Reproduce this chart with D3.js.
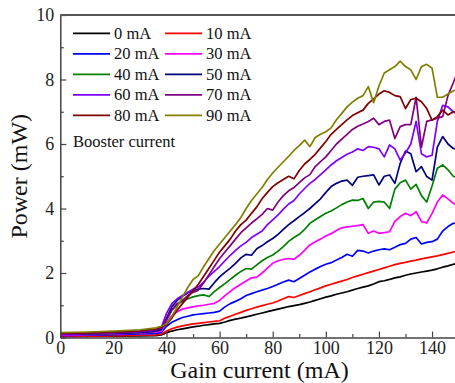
<!DOCTYPE html>
<html><head><meta charset="utf-8">
<script src="https://cdn.jsdelivr.net/npm/d3@7"></script>
</head><body style="margin:0">
<svg id="c" width="455" height="383" font-family="Liberation Serif"></svg>
<script>
// Gain current (mA) sample points
const gainCurrent = [0,10,20,30,36,38,
  40,42,44,46,48,50,52,54,56,58,60,62,64,66,68,
  70,72,74,76,78,80,82,84,86,
  88,90,92,94,96,98,100,
  102,104,106,108,110,112,114,116,118,120,
  122,124,126,128,130,132,134,136,138,140,
  142,144,146,148,150];

// Output power (mW) for each booster current
const p0 = [0.02,0.03,0.04,0.05,0.06,0.08,
  0.15,0.2,0.24,0.27,0.3,0.33,0.35,0.38,0.4,0.42,0.44,0.48,0.53,0.57,0.6,
  0.64,0.68,0.72,0.76,0.8,0.84,0.88,0.92,0.96,
  0.99,1.02,1.06,1.1,1.15,1.2,1.25,
  1.29,1.34,1.38,1.42,1.47,1.52,1.56,1.6,1.66,1.73,
  1.76,1.8,1.85,1.88,1.93,1.97,2.0,2.03,2.06,2.09,
  2.13,2.18,2.22,2.27,2.3];
const p10 = [0.03,0.04,0.05,0.07,0.08,0.1,
  0.2,0.27,0.32,0.36,0.39,0.42,0.44,0.46,0.48,0.5,0.52,0.6,0.66,0.72,0.78,
  0.84,0.89,0.94,0.99,1.03,1.07,1.13,1.2,1.27,
  1.24,1.3,1.36,1.42,1.48,1.54,1.6,
  1.65,1.7,1.75,1.8,1.86,1.91,1.96,2.01,2.06,2.11,
  2.16,2.21,2.26,2.3,2.33,2.37,2.4,2.44,2.47,2.5,
  2.53,2.57,2.61,2.65,2.68];
const p20 = [0.06,0.07,0.09,0.11,0.13,0.15,
  0.35,0.47,0.55,0.62,0.66,0.7,0.72,0.74,0.76,0.78,0.82,0.95,1.05,1.12,1.2,
  1.3,1.36,1.42,1.47,1.52,1.58,1.65,1.72,1.78,
  1.73,1.83,1.93,2.03,2.12,2.2,2.27,
  2.32,2.4,2.48,2.58,2.52,2.7,2.68,2.62,2.68,2.72,
  2.75,2.72,2.8,2.88,2.92,3.05,3.1,2.9,2.95,2.97,
  3.05,3.3,3.44,3.54,3.55];
const p30 = [0.08,0.09,0.11,0.14,0.17,0.2,
  0.45,0.68,0.8,0.88,0.92,0.95,0.98,1.0,1.03,1.06,1.15,1.3,1.43,1.55,1.65,
  1.75,1.85,1.87,2.0,2.15,2.3,2.38,2.42,2.45,
  2.42,2.55,2.7,2.87,2.97,3.05,3.15,
  3.22,3.32,3.4,3.43,3.45,3.47,3.5,3.23,3.3,3.23,
  3.25,3.28,3.6,3.75,3.85,3.78,3.9,3.6,3.55,3.85,
  4.2,4.42,4.3,4.16,4.1];
const p40 = [0.1,0.11,0.13,0.16,0.2,0.25,
  0.55,0.85,1.02,1.12,1.2,1.26,1.3,1.32,1.27,1.42,1.55,1.67,1.8,1.93,2.05,
  2.14,2.12,2.25,2.38,2.48,2.56,2.68,2.82,2.98,
  3.1,3.2,3.35,3.54,3.65,3.75,3.85,
  3.92,4.02,4.12,4.2,4.26,4.25,4.31,4.0,4.2,4.22,
  4.2,4.0,4.6,4.8,4.88,4.6,4.75,4.4,4.2,4.7,
  5.25,5.35,5.2,5.0,4.95];
const p50 = [0.1,0.11,0.13,0.16,0.2,0.25,
  0.6,0.95,1.15,1.28,1.38,1.45,1.5,1.52,1.5,1.7,1.88,2.02,2.15,2.3,2.47,
  2.58,2.55,2.75,2.85,2.97,3.07,3.2,3.35,3.5,
  3.62,3.75,3.87,4.0,4.15,4.3,4.5,
  4.68,4.78,4.85,4.88,4.72,4.97,5.0,5.02,5.04,4.73,
  5.0,5.04,4.78,5.4,5.78,5.7,5.14,5.3,4.99,4.88,
  5.9,6.23,6.0,5.86,5.85];
const p60 = [0.1,0.12,0.14,0.18,0.23,0.3,
  0.75,1.05,1.2,1.3,1.4,1.5,1.57,1.72,1.9,2.05,2.2,2.38,2.55,2.7,2.84,
  2.95,3.1,3.2,3.3,3.5,3.65,3.8,3.98,4.14,
  4.25,4.45,4.62,4.78,4.9,5.05,5.2,
  5.35,5.48,5.58,5.68,5.75,5.85,5.8,5.92,5.9,5.85,
  5.6,5.97,5.85,5.5,5.72,6.0,6.7,5.7,5.6,5.65,
  6.7,7.2,7.15,7.0,6.9];
const p70 = [0.12,0.13,0.15,0.19,0.24,0.3,
  0.55,0.85,1.05,1.15,1.3,1.4,1.47,1.7,1.95,2.2,2.45,2.65,2.85,3.05,3.25,
  3.4,3.55,3.68,3.82,4.0,3.95,4.2,4.4,4.55,
  4.65,4.8,4.95,5.05,5.3,5.45,5.6,
  5.8,6.0,6.15,6.3,6.45,6.55,6.62,6.7,6.8,6.6,
  6.7,6.74,6.17,6.54,6.6,6.6,7.45,5.9,6.7,6.75,
  6.8,6.85,7.5,7.9,8.3];
const p80 = [0.13,0.14,0.17,0.21,0.27,0.33,
  0.4,0.6,0.85,1.05,1.25,1.45,1.65,1.9,2.15,2.4,2.65,2.85,3.05,3.3,3.5,
  3.64,3.85,4.05,4.3,4.5,4.68,4.8,4.9,5.0,
  4.92,5.18,5.38,5.52,5.68,5.88,6.08,
  6.3,6.45,6.6,6.75,6.88,6.97,7.05,7.26,7.4,7.55,
  7.65,7.6,7.5,7.47,7.1,7.38,7.42,7.31,7.1,6.74,
  6.85,7.05,6.9,7.0,7.0];
const p90 = [0.15,0.17,0.2,0.24,0.3,0.35,
  0.42,0.65,0.95,1.25,1.55,1.8,1.92,2.2,2.45,2.7,2.9,3.1,3.3,3.5,3.72,
  4.0,4.25,4.45,4.65,4.9,5.1,5.28,5.45,5.62,
  5.8,5.95,6.12,5.92,6.2,6.3,6.38,
  6.5,6.75,6.95,7.15,7.3,7.42,7.5,7.78,7.28,7.8,
  8.2,8.3,8.4,8.57,8.4,8.3,8.0,8.4,8.47,8.35,
  7.45,7.45,7.55,7.65,7.7];

const boosterLabels = ["0 mA","10 mA","20 mA","30 mA","40 mA","50 mA","60 mA","70 mA","80 mA","90 mA"];
const xTickValues = [0,20,40,60,80,100,120,140];
const xMinorTicks = [10,30,50,70,90,110,130,150];
const yTickValues = [0,2,4,6,8,10];
const yMinorTicks = [1,3,5,7,9];

const seriesValues = [p0,p10,p20,p30,p40,p50,p60,p70,p80,p90];
const seriesColors = ["#000000","#ff0000","#0000ff","#ff00ff","#008000","#000080","#8000ff","#800080","#800000","#808000"];

const FONT = "Liberation Serif";
const svg = d3.select("#c");
const x = d3.scaleLinear().domain([0,150]).range([60.3,458.6]);
const y = d3.scaleLinear().domain([0,10]).range([337.5,15]);

svg.append("defs").append("clipPath").attr("id","clip")
  .append("rect").attr("x",x(0)).attr("y",y(10)).attr("width",x(150)-x(0)).attr("height",y(0)-y(10));

// Curves
const line = d3.line().x(d=>x(d[0])).y(d=>y(d[1]));
const gLines = svg.append("g").attr("clip-path","url(#clip)");
seriesValues.forEach((vals,i)=>{
  const pts = gainCurrent.map((g,k)=>[g,vals[k]]).filter(d=>d[1]!==undefined);
  gLines.append("path").datum(pts).attr("d",line)
    .attr("fill","none").attr("stroke",seriesColors[i]).attr("stroke-width",1.7)
    .attr("stroke-linejoin","round");
});

// Axes
const axisColor = "#444";
const styleAxis = g => {
  g.attr("font-family",FONT).attr("font-size",18);
  g.select(".domain").attr("stroke",axisColor).attr("stroke-width",1.5);
  g.selectAll(".tick line").attr("stroke",axisColor).attr("stroke-width",1.2);
  g.selectAll(".tick text").attr("font-family",FONT).attr("fill","#222");
};
svg.append("g").attr("transform",`translate(0,${y(0)})`)
  .call(d3.axisBottom(x).tickValues(xTickValues).tickSizeInner(-6).tickSizeOuter(0).tickPadding(4).tickFormat(d3.format("d")))
  .call(styleAxis);
svg.append("g").attr("transform",`translate(0,${y(0)})`)
  .call(d3.axisBottom(x).tickValues(xMinorTicks).tickSizeInner(-3.5).tickSizeOuter(0).tickFormat(""))
  .call(styleAxis).select(".domain").remove();
svg.append("g").attr("transform",`translate(${x(0)},0)`)
  .call(d3.axisLeft(y).tickValues(yTickValues).tickSizeInner(-6).tickSizeOuter(0).tickPadding(6).tickFormat(d3.format("d")))
  .call(styleAxis);
svg.append("g").attr("transform",`translate(${x(0)},0)`)
  .call(d3.axisLeft(y).tickValues(yMinorTicks).tickSizeInner(-3.5).tickSizeOuter(0).tickFormat(""))
  .call(styleAxis).select(".domain").remove();

// top/right frame
svg.append("line").attr("x1",x(0)).attr("x2",x(150)).attr("y1",y(10)).attr("y2",y(10))
  .attr("stroke","#555").attr("stroke-width",2);
svg.append("line").attr("x1",x(150)).attr("x2",x(150)).attr("y1",y(10)).attr("y2",y(0))
  .attr("stroke","#555").attr("stroke-width",2);

// Axis titles
svg.append("text").attr("x",(x(0)+x(150))/2).attr("y",378).attr("text-anchor","middle")
  .attr("font-family",FONT).attr("font-size",24).attr("fill","#111").text("Gain current (mA)");
svg.append("text").attr("transform",`translate(27,${(y(0)+y(10))/2}) rotate(-90)`).attr("text-anchor","middle")
  .attr("font-family",FONT).attr("font-size",24).attr("fill","#111").text("Power (mW)");

// Legend
const legend = svg.append("g").attr("font-family",FONT).attr("font-size",16.5);
boosterLabels.forEach((lab,i)=>{
  const row = Math.floor(i/2), col = i%2;
  const ly = 33.3 + row*20.5;
  const lx = col===0 ? 73 : 165;
  legend.append("line").attr("x1",lx).attr("x2",lx+37).attr("y1",ly).attr("y2",ly)
    .attr("stroke",seriesColors[i]).attr("stroke-width",1.7);
  legend.append("text").attr("x",lx+41).attr("y",ly).attr("dy","0.33em")
    .attr("font-family",FONT).attr("fill","#111").text(lab);
});
legend.append("text").attr("x",73).attr("y",141.7).attr("dy","0.33em")
  .attr("font-family",FONT).attr("fill","#111").text("Booster current");
</script></body></html>
